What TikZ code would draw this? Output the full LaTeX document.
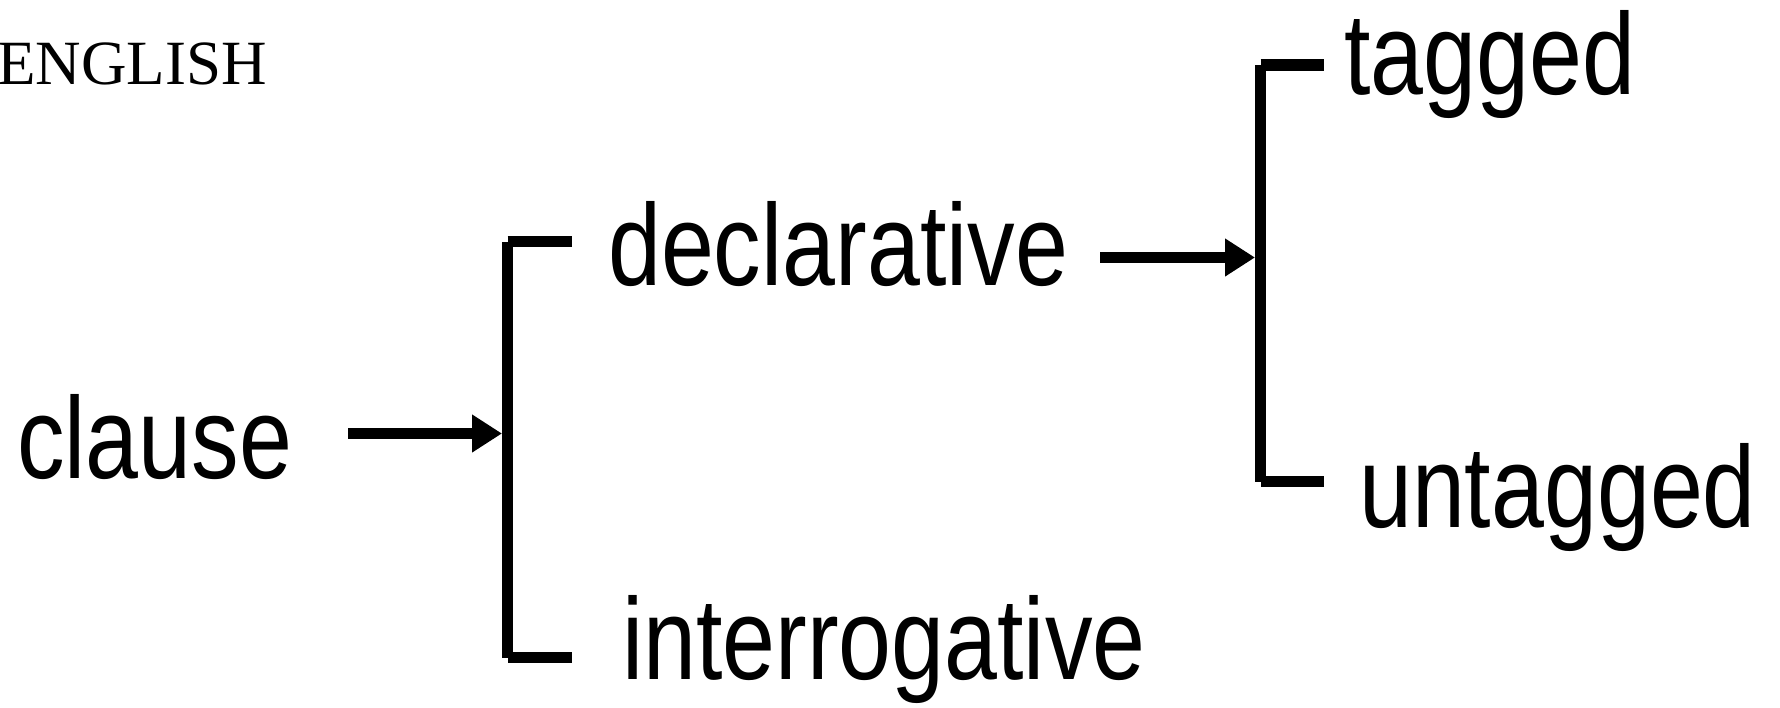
\documentclass[tikz,border=0pt]{standalone}
\usepackage{fontspec}
\setmainfont[FakeStretch=0.82]{Liberation Sans}
\newfontfamily\engserif{Liberation Serif}
\usetikzlibrary{arrows.meta}
\begin{document}
\begin{tikzpicture}[x=1pt,y=-1pt,
  lbl/.style={anchor=base west,inner sep=0pt,font=\fontsize{116}{120}\selectfont},
  bar/.style={line width=11.5pt,line cap=butt},
  arr/.style={line width=11.5pt,line cap=butt,-{Triangle[length=30pt,width=36pt]}}]
\useasboundingbox (0,0) rectangle (1780,707);
\node[anchor=base west,inner sep=0pt,font=\engserif\fontsize{63}{66}\selectfont] (eng) at (-3,84) {ENGLISH};
\node[lbl] (clause) at (17,478) {clause};
\node[lbl] (decl) at (608,285) {declarative};
\node[lbl] (inter) at (622,679) {interrogative};
\node[lbl] (tag) at (1344,94) {tagged};
\node[lbl] (untag) at (1359,527) {untagged};
% bracket 1
\coordinate (b1t) at (507.5,241.5);
\coordinate (b1b) at (507.5,657.5);
\coordinate (b1te) at (572,241.5);
\coordinate (b1be) at (572,657.5);
\coordinate (a1s) at (348,433.5);
\coordinate (a1e) at (502,433.5);
% bracket 2
\coordinate (b2t) at (1260.5,65);
\coordinate (b2b) at (1260.5,481.5);
\coordinate (b2te) at (1324,65);
\coordinate (b2be) at (1324,481.5);
\coordinate (a2s) at (1100,257.5);
\coordinate (a2e) at (1255,257.5);
\draw[bar] (b1t) -- (b1b);
\draw[bar] (b1t) -- (b1te);
\draw[bar] (b1b) -- (b1be);
\draw[bar] (b2t) -- (b2b);
\draw[bar] (b2t) -- (b2te);
\draw[bar] (b2b) -- (b2be);
\draw[arr] (a1s) -- (a1e);
\draw[arr] (a2s) -- (a2e);
\end{tikzpicture}
\end{document}
